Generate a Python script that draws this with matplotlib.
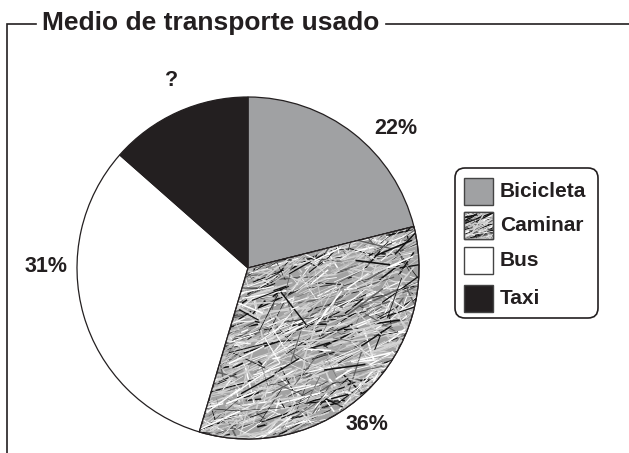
import numpy as np
import matplotlib.pyplot as plt
from matplotlib.patches import FancyBboxPatch, Rectangle, PathPatch
from matplotlib.collections import LineCollection

plt.rcParams['font.family'] = ['Liberation Sans', 'DejaVu Sans']

title = 'Medio de transporte usado'
categories = ['Bicicleta', 'Caminar', 'Bus', 'Taxi']
# slice sizes as drawn in the picture (the drawing is not to scale)
drawn_share = [21.1, 33.5, 31.9, 13.5]
value_labels = ['22%', '36%', '31%', '?']
colors = ['#a0a1a3', '#a2a2a2', '#ffffff', '#231f20']

W, H = 629, 453
ink = '#231f20'

fig = plt.figure(figsize=(W / 100, H / 100), dpi=100)
ax = fig.add_axes([0, 0, 1, 1])


def texture(ax, clip, x0, x1, y0, y1, n, seed, z=3):
    # scribbled grey texture used for "Caminar"
    rng = np.random.default_rng(seed)
    xs = rng.uniform(x0, x1, n)
    ys = rng.uniform(y0, y1, n)
    ang = np.where(rng.random(n) < 0.65, rng.normal(22, 10, n), rng.uniform(-80, 80, n))
    ang = np.radians(ang)
    ln = rng.uniform(4, 45, n)
    segs = np.stack([np.column_stack([xs - ln * np.cos(ang) / 2, ys - ln * np.sin(ang) / 2]),
                     np.column_stack([xs + ln * np.cos(ang) / 2, ys + ln * np.sin(ang) / 2])], axis=1)
    pal = np.array(['#d4d4d4', '#ffffff', '#bcbcbc', '#111111', '#606060'])
    cols = pal[rng.choice(len(pal), n, p=[0.40, 0.20, 0.16, 0.16, 0.08])]
    lws = rng.uniform(0.3, 1.2, n)
    lc = LineCollection(segs, colors=cols, linewidths=lws, zorder=z)
    ax.add_collection(lc)
    lc.set_clip_path(clip)


cx, cy, r = 248, H - 268, 171
wedges, _ = ax.pie(drawn_share, startangle=90, counterclock=False, colors=colors,
                   center=(cx, cy), radius=r,
                   wedgeprops=dict(edgecolor=ink, linewidth=0.9))
for w in wedges:
    w.set_zorder(2)

cam = wedges[1]
texture(ax, cam, cx - r, cx + r, cy - r, cy + r, 5000, 7)
ax.add_patch(PathPatch(cam.get_path(), transform=cam.get_transform(), fill=False,
                       edgecolor=ink, linewidth=0.9, zorder=4))

# percentage labels
label_pos = [(396, 128), (367, 425), (46, 266), (172, 80)]
for txt, (x, y) in zip(value_labels, label_pos):
    ax.text(x, H - y, txt, fontsize=15.5, fontweight='bold', color=ink,
            ha='center', va='center')

# legend
ax.add_patch(FancyBboxPatch((455, H - 318), 143, 150,
                            boxstyle='round,pad=0,rounding_size=10',
                            facecolor='white', edgecolor=ink, linewidth=1.2, zorder=5))
row_top = [178, 212, 247, 285]
for name, col, top in zip(categories, colors, row_top):
    box = Rectangle((464, H - top - 27), 29, 27, facecolor=col,
                    edgecolor='#444444', linewidth=1.0, zorder=6)
    ax.add_patch(box)
    if name == 'Caminar':
        texture(ax, box, 464, 493, H - top - 27, H - top, 250, 11, z=7)
        ax.add_patch(Rectangle((464, H - top - 27), 29, 27, fill=False,
                               edgecolor='#444444', linewidth=1.0, zorder=8))
    ax.text(500, H - top - 13.5, name, fontsize=15, fontweight='bold',
            color=ink, ha='left', va='center', zorder=9)

# title frame
ax.plot([7, 7, 36], [0, H - 24, H - 24], color=ink, linewidth=1.2, solid_joinstyle='miter')
ax.plot([386, W], [H - 24, H - 24], color=ink, linewidth=1.2)
ax.text(42, H - 23, title, fontsize=19, fontweight='bold', color=ink,
        ha='left', va='center')

ax.set_xlim(0, W)
ax.set_ylim(0, H)
ax.set_aspect('auto')
ax.axis('off')

fig.savefig('out.png', dpi=100)
